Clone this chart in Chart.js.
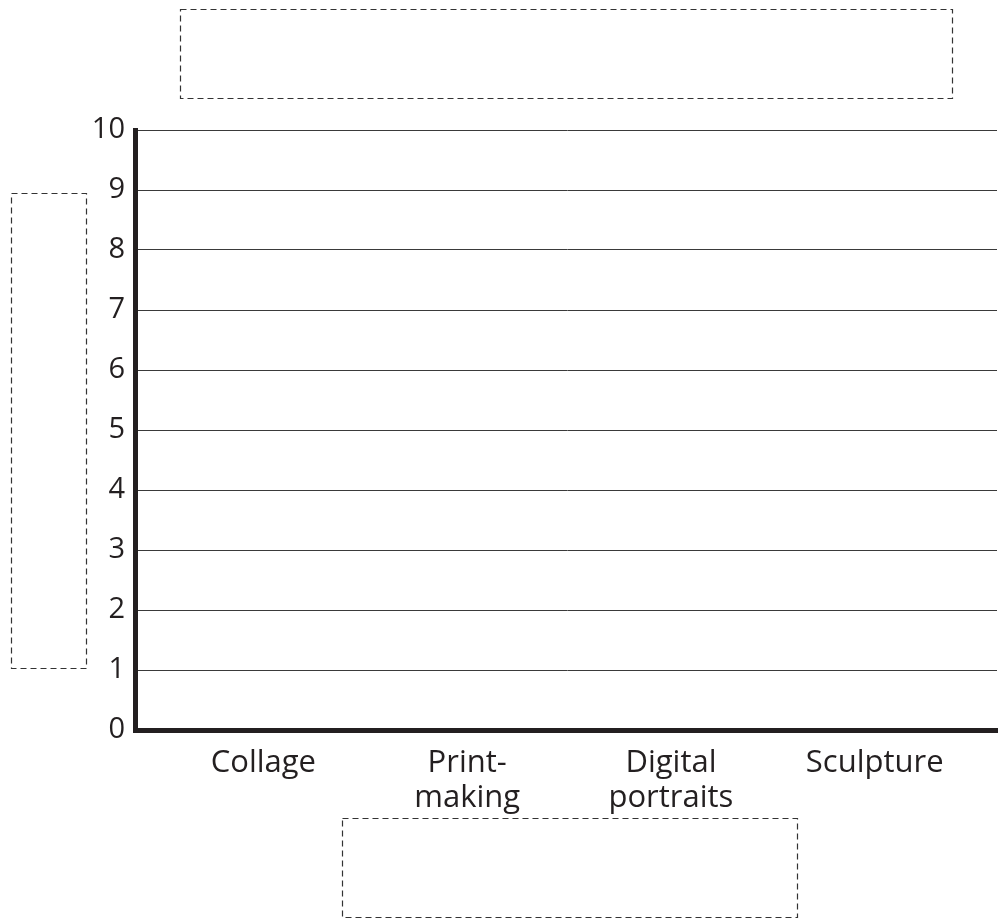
<!DOCTYPE html>
<html>
<head>
<meta charset="utf-8">
<script src="https://cdn.jsdelivr.net/npm/chart.js@4.4.0/dist/chart.umd.min.js"></script>
<style>
  html, body { margin: 0; padding: 0; background: #fff; }
  #wrap { width: 1007px; height: 922px; }
</style>
</head>
<body>
<div id="wrap"><canvas id="artChart" width="1007" height="922"></canvas></div>
<script>
// blank template: categories on x, counts 0-10 on y, no bars filled in yet
const categories = [["Collage"], ["Print-", "making"], ["Digital", "portraits"], ["Sculpture"]];
const counts = [null, null, null, null];
const yTicks = [0, 1, 2, 3, 4, 5, 6, 7, 8, 9, 10];

const ink = "#231f20";

// empty answer boxes (title, y label, x label)
const answerBoxes = {
    id: "answerBoxes",
    afterDraw(chart) {
        const ctx = chart.ctx;
        ctx.save();
        ctx.strokeStyle = "#333";
        ctx.lineWidth = 1.2;
        ctx.setLineDash([6, 4]);
        [[180.5, 9.5, 772, 89], [11.5, 193.5, 75, 475], [342.5, 818.5, 455, 99]].forEach(b => {
            ctx.strokeRect(b[0], b[1], b[2], b[3]);
        });
        ctx.restore();
    }
};

new Chart(document.getElementById("artChart"), {
    type: "bar",
    data: {
        datasets: [{
            label: "Count",
            data: counts.map((c, i) => ({ x: i + 1, y: c })),
            backgroundColor: "#888"
        }]
    },
    options: {
        responsive: false,
        animation: false,
        layout: { padding: { top: 130, right: 10, left: 0, bottom: 0 } },
        plugins: {
            legend: { display: false },
            tooltip: { enabled: false }
        },
        scales: {
            x: {
                type: "linear",
                offset: false,
                min: 0.37,
                max: 4.6,
                afterBuildTicks: axis => {
                    axis.ticks = categories.map((c, i) => ({ value: i + 1 }));
                },
                afterFit: axis => { axis.height = 192; },
                grid: { display: false },
                border: { color: ink, width: 5 },
                ticks: {
                    color: ink,
                    font: { family: "'Open Sans', sans-serif", size: 31, lineHeight: 1.13 },
                    padding: 8,
                    maxRotation: 0,
                    autoSkip: false,
                    callback: v => categories[v - 1]
                }
            },
            y: {
                min: 0,
                max: 10,
                afterBuildTicks: axis => {
                    axis.ticks = yTicks.map(v => ({ value: v }));
                },
                afterFit: axis => { axis.width = 135; },
                grid: { color: "#3a3a3a", lineWidth: 1, drawTicks: false },
                border: { color: ink, width: 5 },
                ticks: {
                    color: ink,
                    font: { family: "'Open Sans', sans-serif", size: 29 },
                    padding: 10
                }
            }
        }
    },
    plugins: [answerBoxes]
});
</script>
</body>
</html>
